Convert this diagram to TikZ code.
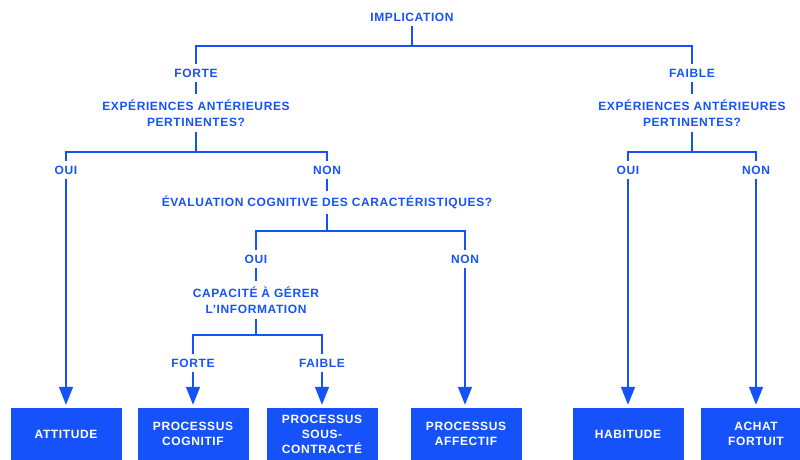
\documentclass[tikz,border=0pt]{standalone}
\usepackage{fontspec}
\setmainfont{Liberation Sans}[LetterSpace=5]
\usetikzlibrary{arrows.meta}
\definecolor{dblue}{RGB}{22,82,250}
\tikzset{
  lbl/.style={text=dblue, font=\bfseries\fontsize{12}{16.5}\selectfont, inner sep=0pt, outer sep=5pt, align=center},
  outbox/.style={fill=dblue, text=white, font=\bfseries\fontsize{12}{15}\selectfont, minimum width=111pt, minimum height=52pt, inner sep=0pt, align=center},
  wire/.style={draw=dblue, line width=1.6pt},
  arr/.style={wire, -{Triangle[width=14pt,length=18pt]}, shorten >=3pt}
}
\begin{document}
\begin{tikzpicture}[x=1pt,y=-1pt]
\useasboundingbox (0,0) rectangle (800,459);
% labels
\node[lbl] (impl) at (412,17) {IMPLICATION};
\node[lbl] (fortA) at (196,73) {FORTE};
\node[lbl] (faibA) at (692,73) {FAIBLE};
\node[lbl] (expL) at (196,113) {EXPÉRIENCES ANTÉRIEURES\\PERTINENTES?};
\node[lbl] (expR) at (692,113) {EXPÉRIENCES ANTÉRIEURES\\PERTINENTES?};
\node[lbl] (ouiL) at (66,170) {OUI};
\node[lbl] (nonL) at (327,170) {NON};
\node[lbl] (eval) at (327,202) {ÉVALUATION COGNITIVE DES CARACTÉRISTIQUES?};
\node[lbl] (ouiM) at (256,259) {OUI};
\node[lbl] (nonM) at (465,259) {NON};
\node[lbl] (cap) at (256,300) {CAPACITÉ À GÉRER\\L'INFORMATION};
\node[lbl] (forteB) at (193,363) {FORTE};
\node[lbl] (faibleB) at (322,363) {FAIBLE};
\node[lbl] (ouiR) at (628,170) {OUI};
\node[lbl] (nonR) at (756,170) {NON};
% boxes
\node[outbox] (b1) at (66,434) {ATTITUDE};
\node[outbox] (b2) at (193,434) {PROCESSUS\\COGNITIF};
\node[outbox] (b3) at (322,434) {PROCESSUS\\SOUS-\\CONTRACTÉ};
\node[outbox] (b4) at (466,434) {PROCESSUS\\AFFECTIF};
\node[outbox] (b5) at (628,434) {HABITUDE};
\node[outbox] (b6) at (756,434) {ACHAT\\FORTUIT};
% junctions
\coordinate (j1) at (412,46);
\coordinate (j2) at (196,152);
\coordinate (j3) at (327,231);
\coordinate (j4) at (256,335);
\coordinate (j5) at (692,152);
% connectors
\draw[wire] (impl.south) -- (j1);
\draw[wire] (fortA.north) |- (j1) -| (faibA.north);
\draw[wire] (fortA.south) -- (expL.north);
\draw[wire] (faibA.south) -- (expR.north);
\draw[wire] (expL.south) -- (j2);
\draw[wire] (ouiL.north) |- (j2) -| (nonL.north);
\draw[wire] (expR.south) -- (j5);
\draw[wire] (ouiR.north) |- (j5) -| (nonR.north);
\draw[wire] (nonL.south) -- (eval.north);
\draw[wire] (eval.south) -- (j3);
\draw[wire] (ouiM.north) |- (j3) -| (nonM.north);
\draw[wire] (ouiM.south) -- (cap.north);
\draw[wire] (cap.south) -- (j4);
\draw[wire] (forteB.north) |- (j4) -| (faibleB.north);
\draw[arr] (ouiL.south) -- (ouiL.south |- b1.north);
\draw[arr] (forteB.south) -- (forteB.south |- b2.north);
\draw[arr] (faibleB.south) -- (faibleB.south |- b3.north);
\draw[arr] (nonM.south) -- (nonM.south |- b4.north);
\draw[arr] (ouiR.south) -- (ouiR.south |- b5.north);
\draw[arr] (nonR.south) -- (nonR.south |- b6.north);
\end{tikzpicture}
\end{document}
